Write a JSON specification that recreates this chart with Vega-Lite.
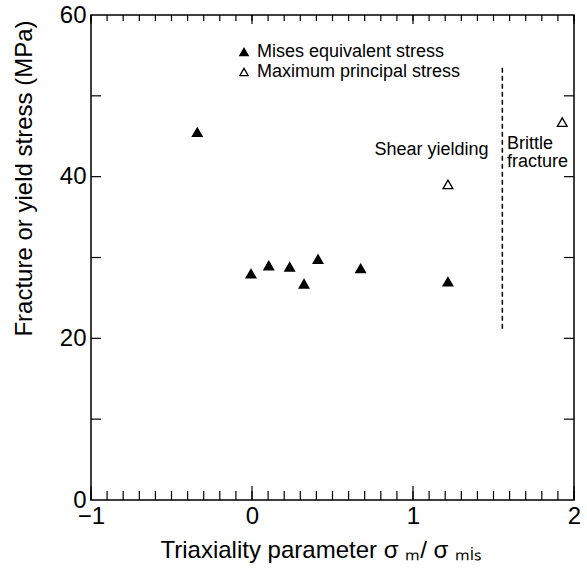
{
  "$schema": "https://vega.github.io/schema/vega-lite/v6.json",
  "width": 483,
  "height": 485,
  "autosize": {"type": "none"},
  "padding": {"left": 91, "top": 15, "right": 13, "bottom": 73},
  "background": "white",
  "config": {
    "view": {"stroke": "black", "strokeWidth": 1.5, "fill": null},
    "font": "Liberation Sans",
    "axis": {
      "domain": false,
      "ticks": false,
      "grid": false,
      "labelColor": "black",
      "titleColor": "black",
      "labelFont": "Liberation Sans",
      "titleFont": "Liberation Sans",
      "labelFontSize": 24,
      "titleFontSize": 24,
      "titleFontWeight": "normal",
      "labelFlush": false,
      "labelOverlap": false
    }
  },
  "datasets": {
    "points": [
      {"x": -0.34, "y": 45.5, "series": "Mises equivalent stress"},
      {"x": -0.006, "y": 28.0, "series": "Mises equivalent stress"},
      {"x": 0.104, "y": 29.0, "series": "Mises equivalent stress"},
      {"x": 0.234, "y": 28.85, "series": "Mises equivalent stress"},
      {"x": 0.323, "y": 26.75, "series": "Mises equivalent stress"},
      {"x": 0.41, "y": 29.8, "series": "Mises equivalent stress"},
      {"x": 0.675, "y": 28.65, "series": "Mises equivalent stress"},
      {"x": 1.217, "y": 27.0, "series": "Mises equivalent stress"},
      {"x": 1.217, "y": 39.05, "series": "Maximum principal stress"},
      {"x": 1.927, "y": 46.75, "series": "Maximum principal stress"}
    ],
    "divider": [{"x": 1.555, "y": 21.2, "y2": 53.8}],
    "centerLabels": [{"label": "Shear yielding", "x": 1.115, "y": 43.3}],
    "leftLabels": [
      {"label": "Brittle", "x": 1.584, "y": 44.0},
      {"label": "fracture", "x": 1.584, "y": 41.8}
    ],
    "xMinorTicks": [
      {"v": -1}, {"v": -0.9}, {"v": -0.8}, {"v": -0.7}, {"v": -0.6}, {"v": -0.5}, {"v": -0.4}, {"v": -0.3}, {"v": -0.2}, {"v": -0.1},
      {"v": 0}, {"v": 0.1}, {"v": 0.2}, {"v": 0.3}, {"v": 0.4}, {"v": 0.5}, {"v": 0.6}, {"v": 0.7}, {"v": 0.8}, {"v": 0.9},
      {"v": 1}, {"v": 1.1}, {"v": 1.2}, {"v": 1.3}, {"v": 1.4}, {"v": 1.5}, {"v": 1.6}, {"v": 1.7}, {"v": 1.8}, {"v": 1.9}, {"v": 2}
    ],
    "xMajorTicks": [{"v": -1}, {"v": 0}, {"v": 1}, {"v": 2}],
    "yTicks": [{"v": 10}, {"v": 20}, {"v": 30}, {"v": 40}, {"v": 50}]
  },
  "layer": [
    {
      "data": {"name": "points"},
      "mark": {"type": "point", "shape": "triangle-up", "filled": true, "size": 95, "stroke": "black", "strokeWidth": 1.3, "opacity": 1},
      "encoding": {
        "x": {
          "field": "x", "type": "quantitative",
          "scale": {"domain": [-1, 2], "nice": false, "zero": false},
          "axis": {
            "orient": "bottom",
            "values": [-1, 0, 1, 2],
            "format": "d",
            "labelPadding": 4,
            "title": "Triaxiality parameter  σ ₘ/ σ  ₘᵢₛ",
            "titleAnchor": "start",
            "titleAlign": "left",
            "titleX": 69,
            "titleY": 57,
            "titleBaseline": "alphabetic"
          }
        },
        "y": {
          "field": "y", "type": "quantitative",
          "scale": {"domain": [0, 60], "nice": false},
          "axis": {
            "orient": "left",
            "values": [0, 20, 40, 60],
            "labelPadding": 5,
            "title": "Fracture or yield stress (MPa)",
            "titleAnchor": "end",
            "titleAlign": "right",
            "titleAngle": 270,
            "titleX": -60,
            "titleY": 5,
            "titleBaseline": "alphabetic"
          }
        },
        "fill": {
          "field": "series", "type": "nominal",
          "scale": {"domain": ["Mises equivalent stress", "Maximum principal stress"], "range": ["black", "white"]},
          "legend": {
            "orient": "none",
            "legendX": 144,
            "legendY": 28,
            "title": null,
            "symbolType": "triangle-up",
            "symbolSize": 70,
            "symbolStrokeColor": "black",
            "symbolStrokeWidth": 1.3,
            "symbolOpacity": 1,
            "labelFontSize": 18,
            "labelFont": "Liberation Sans",
            "labelColor": "black",
            "labelOffset": 4,
            "rowPadding": 2,
            "padding": 0,
            "labelLimit": 400
          }
        }
      }
    },
    {
      "data": {"name": "xMinorTicks"},
      "mark": {"type": "tick", "orient": "vertical", "size": 9, "thickness": 1.2, "color": "black", "opacity": 1, "yOffset": -4.5},
      "encoding": {
        "x": {"field": "v", "type": "quantitative"},
        "y": {"datum": 0, "type": "quantitative"}
      }
    },
    {
      "data": {"name": "xMajorTicks"},
      "mark": {"type": "tick", "orient": "vertical", "size": 14, "thickness": 1.2, "color": "black", "opacity": 1, "yOffset": -7},
      "encoding": {
        "x": {"field": "v", "type": "quantitative"},
        "y": {"datum": 0, "type": "quantitative"}
      }
    },
    {
      "data": {"name": "xMinorTicks"},
      "mark": {"type": "tick", "orient": "vertical", "size": 6, "thickness": 1.2, "color": "black", "opacity": 1, "yOffset": 3},
      "encoding": {
        "x": {"field": "v", "type": "quantitative"},
        "y": {"datum": 60, "type": "quantitative"}
      }
    },
    {
      "data": {"name": "xMajorTicks"},
      "mark": {"type": "tick", "orient": "vertical", "size": 9, "thickness": 1.2, "color": "black", "opacity": 1, "yOffset": 4.5},
      "encoding": {
        "x": {"field": "v", "type": "quantitative"},
        "y": {"datum": 60, "type": "quantitative"}
      }
    },
    {
      "data": {"name": "yTicks"},
      "mark": {"type": "tick", "orient": "horizontal", "size": 10, "thickness": 1.2, "color": "black", "opacity": 1, "xOffset": 5},
      "encoding": {
        "y": {"field": "v", "type": "quantitative"},
        "x": {"datum": -1, "type": "quantitative"}
      }
    },
    {
      "data": {"name": "yTicks"},
      "mark": {"type": "tick", "orient": "horizontal", "size": 10, "thickness": 1.2, "color": "black", "opacity": 1, "xOffset": -5},
      "encoding": {
        "y": {"field": "v", "type": "quantitative"},
        "x": {"datum": 2, "type": "quantitative"}
      }
    },
    {
      "data": {"name": "divider"},
      "mark": {"type": "rule", "strokeDash": [5, 3], "strokeWidth": 1.5, "color": "black"},
      "encoding": {
        "x": {"field": "x", "type": "quantitative"},
        "y": {"field": "y", "type": "quantitative"},
        "y2": {"field": "y2"}
      }
    },
    {
      "data": {"name": "centerLabels"},
      "mark": {"type": "text", "align": "center", "baseline": "middle", "fontSize": 18, "font": "Liberation Sans", "color": "black"},
      "encoding": {
        "x": {"field": "x", "type": "quantitative"},
        "y": {"field": "y", "type": "quantitative"},
        "text": {"field": "label"}
      }
    },
    {
      "data": {"name": "leftLabels"},
      "mark": {"type": "text", "align": "left", "baseline": "middle", "fontSize": 18, "font": "Liberation Sans", "color": "black"},
      "encoding": {
        "x": {"field": "x", "type": "quantitative"},
        "y": {"field": "y", "type": "quantitative"},
        "text": {"field": "label"}
      }
    }
  ]
}
